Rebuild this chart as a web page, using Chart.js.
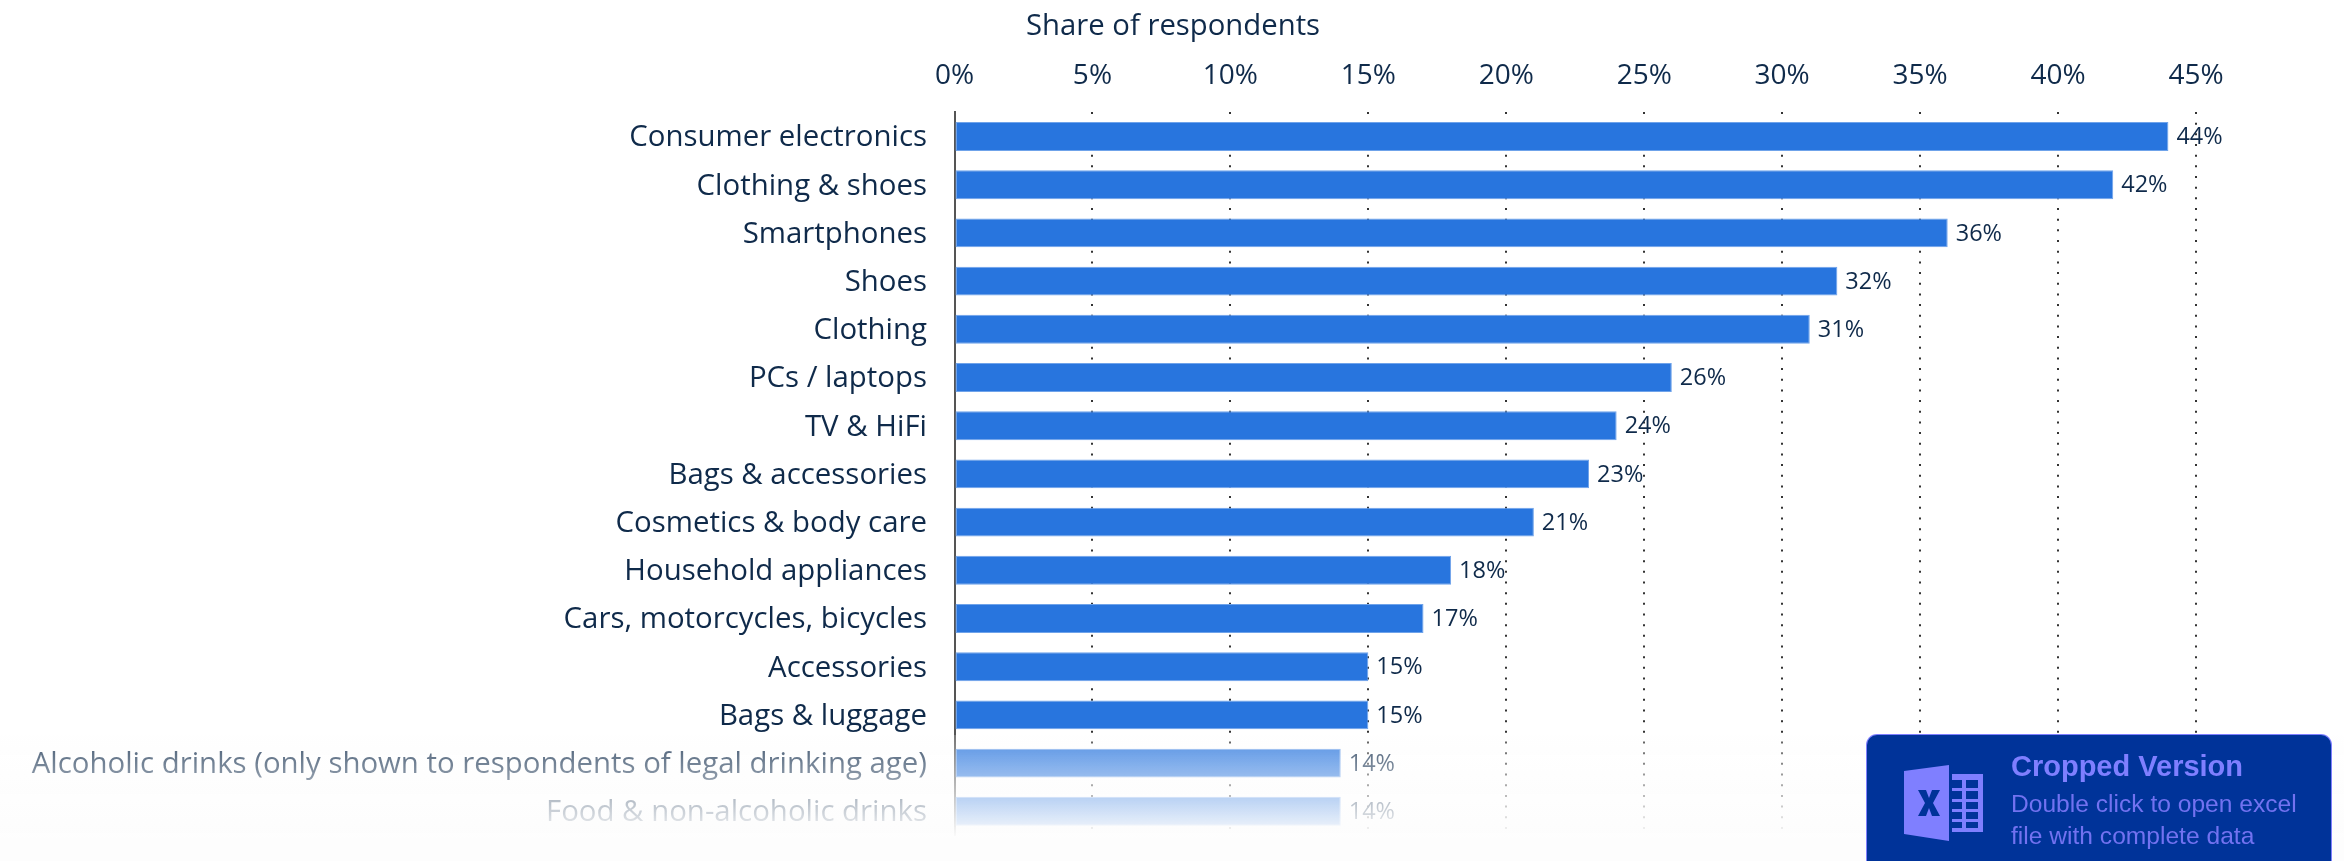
<!DOCTYPE html>
<html>
<head>
<meta charset="utf-8">
<script src="https://cdn.jsdelivr.net/npm/chart.js@4"></script>
<style>
html, body { margin: 0; padding: 0; background: #fff; overflow: hidden; }
#wrap { position: relative; width: 2344px; height: 861px; }
#grafico { position: absolute; left: 0; top: 0; }
#titulo { position: absolute; left: 1026px; top: 4px; font: 29.3px "Open Sans"; color: #0f2a4a; white-space: nowrap; }
#fade { position: absolute; left: 0; top: 735px; width: 2344px; height: 126px;
    background: linear-gradient(to bottom, rgba(253,253,253,0.2), rgba(253,253,253,1) 82%); }
#badge { position: absolute; left: 1867px; top: 735px; width: 464px; height: 126px; background: #003399;
    border-radius: 10px 10px 0 0; box-shadow: 0 0 0 1px #7f7fff; font-family: "Liberation Sans"; color: #7272f0; }
#badge svg { position: absolute; left: 37px; top: 30px; }
#badge b { position: absolute; left: 144px; top: 15px; font-size: 29px; color: #7f7fff; white-space: nowrap; }
#badge span { position: absolute; left: 144px; top: 53px; font-size: 24.6px; line-height: 32px; white-space: nowrap; }
</style>
</head>
<body>
<div id="wrap">
    <canvas id="grafico" width="2344" height="861"></canvas>
    <div id="titulo">Share of respondents</div>
    <div id="fade"></div>
    <div id="badge">
        <svg width="80" height="76" viewBox="0 0 80 76">
            <path d="M0 6 L45 0 V76 L0 69 Z" fill="#7f7fff"/>
            <path d="M14 25 H22 L25 33 L28 25 H36 L29 38 L36 51 H28 L25 43 L22 51 H14 L21 38 Z" fill="#003399"/>
            <path d="M48 9 H79 V67 H48 Z M48 15 V23 H58 V15 Z M62 15 V23 H74 V15 Z M48 26 V34 H58 V26 Z M62 26 V34 H74 V26 Z M48 37 V44 H58 V37 Z M62 37 V44 H74 V37 Z M48 47 V54 H58 V47 Z M62 47 V54 H74 V47 Z M48 57 V63 H58 V57 Z M62 57 V63 H74 V57 Z" fill="#7f7fff" fill-rule="evenodd"/>
        </svg>
        <b>Cropped Version</b>
        <span>Double click to open excel<br>file with complete data</span>
    </div>
</div>
<script>
// dados
const categorias = ['Consumer electronics', 'Clothing & shoes', 'Smartphones', 'Shoes', 'Clothing',
    'PCs / laptops', 'TV & HiFi', 'Bags & accessories', 'Cosmetics & body care', 'Household appliances',
    'Cars, motorcycles, bicycles', 'Accessories', 'Bags & luggage',
    'Alcoholic drinks (only shown to respondents of legal drinking age)', 'Food & non-alcoholic drinks'];
const valores = [44, 42, 36, 32, 31, 26, 24, 23, 21, 18, 17, 15, 15, 14, 14];
const ticksX = [0, 5, 10, 15, 20, 25, 30, 35, 40, 45];

const corTexto = '#0f2a4a';
const fonte = 'Open Sans';

// rótulos no fim das barras
const rotulos = {
    id: 'rotulos',
    afterDatasetsDraw(chart) {
        const ctx = chart.ctx;
        ctx.save();
        ctx.font = '23.5px "' + fonte + '"';
        ctx.fillStyle = corTexto;
        ctx.textBaseline = 'middle';
        chart.getDatasetMeta(0).data.forEach((bar, i) => {
            ctx.fillText(valores[i] + '%', bar.x + 8, bar.y + 1);
        });
        ctx.restore();
    }
};

new Chart(document.getElementById('grafico'), {
    type: 'bar',
    data: {
        labels: categorias,
        datasets: [{
            label: 'Share of respondents',
            data: valores,
            backgroundColor: '#2875de',
            borderColor: '#6fa3ea',
            borderWidth: 1,
            borderSkipped: false,
            categoryPercentage: 1,
            barPercentage: 0.6
        }]
    },
    plugins: [rotulos],
    options: {
        indexAxis: 'y',
        responsive: false,
        animation: false,
        layout: { padding: { right: 148, bottom: 25.6 } },
        plugins: { legend: { display: false }, tooltip: { enabled: false } },
        scales: {
            x: {
                position: 'top',
                min: 0,
                max: 45,
                afterFit: scale => {
                    scale.height = 112.4;
                    scale.paddingLeft = 0;
                    scale.paddingRight = 0;
                },
                afterBuildTicks: scale => { scale.ticks = ticksX.map(v => ({ value: v })); },
                border: { display: false, dash: [2, 8.67] },
                grid: {
                    drawTicks: false,
                    lineWidth: 2,
                    color: c => c.tick && c.tick.value === 0 ? 'transparent' : '#333'
                },
                ticks: {
                    padding: 19.5,
                    maxRotation: 0,
                    color: corTexto,
                    font: { family: fonte, size: 28 },
                    callback: v => v + '%'
                }
            },
            y: {
                afterFit: scale => {
                    scale.width = 954.5;
                    scale.paddingTop = 0;
                    scale.paddingBottom = 0;
                },
                border: { display: true, color: '#555', width: 2 },
                grid: { display: false, drawTicks: false },
                ticks: {
                    padding: 27.5,
                    labelOffset: 1.5,
                    autoSkip: false,
                    color: corTexto,
                    font: { family: fonte, size: 29.4 }
                }
            }
        }
    }
});
</script>
</body>
</html>
